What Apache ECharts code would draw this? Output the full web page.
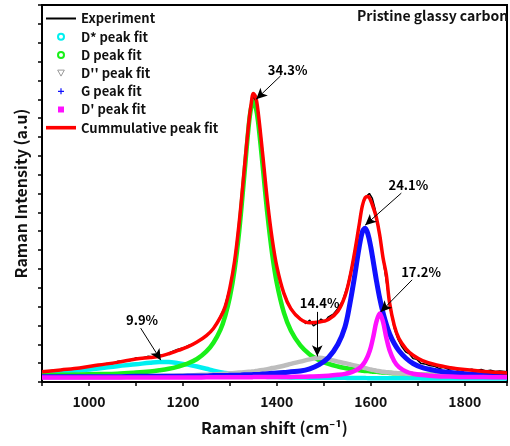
<!DOCTYPE html>
<html>
<head>
<meta charset="utf-8">
<script src="https://cdn.jsdelivr.net/npm/echarts@6/dist/echarts.min.js"></script>
<style>
  html, body { margin: 0; padding: 0; background: #fff; }
  #chart { width: 510px; height: 446px; }
</style>
</head>
<body>
<div id="chart"></div>
<script>
// Raman shift grid used by the fitted curves (cm-1)
const shift = [900, 940, 980, 1020, 1060, 1100, 1130, 1150, 1170, 1190,
  1210, 1230, 1250, 1265, 1280, 1290, 1300, 1310, 1320, 1330,
  1340, 1345, 1350, 1355, 1360, 1370, 1380, 1390, 1400, 1415,
  1430, 1450, 1470, 1490, 1510, 1530, 1545, 1555, 1565, 1575,
  1582, 1588, 1594, 1600, 1606, 1612, 1619, 1626, 1633, 1640,
  1650, 1660, 1675, 1690, 1710, 1740, 1770, 1800, 1840, 1890];

const dStarFit = [2.2, 2.6, 3.1, 3.6, 4.2, 4.7, 5.1, 5.3, 5.3, 5.0,
  4.6, 4.1, 3.5, 3.0, 2.6, 2.4, 2.2, 2.0, 1.8, 1.7,
  1.6, 1.55, 1.5, 1.5, 1.45, 1.4, 1.35, 1.3, 1.3, 1.25,
  1.2, 1.2, 1.15, 1.15, 1.1, 1.1, 1.1, 1.05, 1.05, 1.05,
  1.05, 1.05, 1.0, 1.0, 1.0, 1.0, 1.0, 1.0, 1.0, 1.0,
  1.0, 1.0, 1.0, 1.0, 0.95, 0.95, 0.95, 0.95, 0.9, 0.9];

const dFit = [1.8, 1.9, 2.0, 2.1, 2.2, 2.5, 2.8, 3.1, 3.5, 4.1,
  4.9, 6.1, 8.1, 10.4, 13.9, 17.5, 22.5, 29.8, 40.2, 53.8,
  67.8, 72.6, 74.3, 72.9, 69.1, 57.1, 44.4, 34.0, 26.2, 18.4,
  13.6, 9.7, 7.3, 5.8, 4.8, 4.1, 3.7, 3.5, 3.3, 3.1,
  3.0, 2.9, 2.9, 2.8, 2.7, 2.7, 2.6, 2.5, 2.5, 2.4,
  2.3, 2.3, 2.2, 2.1, 2.0, 1.9, 1.8, 1.8, 1.7, 1.6];

const dDoubleFit = [1.3, 1.3, 1.35, 1.4, 1.45, 1.5, 1.55, 1.6, 1.65, 1.7,
  1.75, 1.85, 1.95, 2.0, 2.1, 2.2, 2.3, 2.4, 2.5, 2.6,
  2.7, 2.75, 2.8, 2.9, 3.0, 3.2, 3.4, 3.7, 3.9, 4.3,
  4.8, 5.4, 6.0, 6.4, 6.0, 5.4, 5.0, 4.7, 4.4, 4.1,
  3.9, 3.7, 3.5, 3.3, 3.15, 3.0, 2.85, 2.7, 2.6, 2.5,
  2.4, 2.3, 2.2, 2.1, 2.0, 1.85, 1.75, 1.65, 1.55, 1.45];

const gFit = [1.4, 1.4, 1.4, 1.4, 1.4, 1.5, 1.5, 1.5, 1.5, 1.5,
  1.6, 1.6, 1.6, 1.7, 1.7, 1.7, 1.8, 1.8, 1.8, 1.9,
  1.9, 1.9, 2.0, 2.0, 2.0, 2.1, 2.2, 2.3, 2.4, 2.5,
  2.7, 2.9, 3.5, 4.6, 6.5, 10.0, 14.6, 20.4, 27.6, 35.6,
  39.8, 40.8, 39.2, 35.8, 31.4, 26.9, 22.2, 18.4, 15.3, 12.8,
  10.2, 8.3, 6.3, 4.9, 3.8, 3.0, 2.5, 2.2, 1.9, 1.7];

const dPrimeFit = [1.2, 1.2, 1.2, 1.2, 1.2, 1.2, 1.2, 1.2, 1.2, 1.2,
  1.2, 1.2, 1.25, 1.25, 1.25, 1.25, 1.25, 1.25, 1.25, 1.25,
  1.25, 1.25, 1.3, 1.3, 1.3, 1.3, 1.3, 1.3, 1.3, 1.3,
  1.35, 1.4, 1.45, 1.5, 1.65, 1.9, 2.15, 2.45, 2.9, 3.6,
  4.45, 5.5, 7.0, 9.2, 12.4, 16.0, 18.2, 16.0, 11.8, 8.4,
  5.5, 3.95, 2.8, 2.2, 1.85, 1.55, 1.45, 1.35, 1.3, 1.25];

const cumulativeFit = [2.7, 3.2, 3.7, 4.5, 5.2, 6.1, 6.5, 6.8, 7.5, 8.4,
  9.3, 10.6, 12.3, 14.2, 17.2, 20.0, 25.0, 32.0, 42.5, 55.6,
  68.6, 73.5, 76.5, 75.6, 71.8, 60.2, 47.9, 38.0, 30.6, 23.5,
  19.4, 16.7, 15.7, 15.9, 16.6, 18.8, 22.8, 27.5, 34.0, 41.5,
  46.7, 48.9, 49.2, 48.1, 46.0, 43.5, 39.0, 33.0, 28.5, 21.0,
  15.0, 11.5, 8.8, 7.1, 5.7, 4.5, 3.8, 3.3, 2.8, 2.4];

// measured spectrum
const expShift = [900, 912, 925, 938, 950, 962, 975, 988, 1000, 1012,
  1025, 1038, 1050, 1062, 1075, 1088, 1100, 1112, 1125, 1138,
  1150, 1162, 1175, 1188, 1200, 1212, 1225, 1238, 1250, 1262,
  1275, 1288, 1300, 1310, 1320, 1330, 1340, 1350, 1360, 1370,
  1380, 1390, 1400, 1412, 1425, 1438, 1450, 1462, 1470, 1478,
  1486, 1494, 1502, 1510, 1520, 1530, 1540, 1550, 1560, 1570,
  1578, 1585, 1591, 1597, 1603, 1609, 1615, 1621, 1628, 1635,
  1642, 1650, 1658, 1666, 1674, 1682, 1690, 1698, 1706, 1715,
  1725, 1735, 1745, 1755, 1765, 1775, 1785, 1795, 1805, 1815,
  1825, 1835, 1845, 1855, 1865, 1875, 1890];
const expIntensity = [2.8, 2.9, 3.1, 3.0, 3.4, 3.3, 3.7, 3.8, 4.0, 4.3,
  4.4, 4.9, 4.8, 5.5, 5.6, 5.7, 6.4, 6.3, 6.8, 6.6,
  7.1, 7.2, 8.0, 8.6, 9.0, 9.7, 10.2, 11.3, 12.3, 13.8,
  16.3, 19.6, 25.2, 32.0, 42.4, 55.5, 68.5, 76.2, 71.5, 60.0,
  47.8, 38.2, 30.4, 24.8, 20.6, 18.2, 16.8, 15.5, 16.4, 14.9,
  15.6, 16.7, 16.0, 17.3, 18.0, 19.5, 21.5, 25.5, 31.0, 38.0,
  44.5, 48.0, 49.3, 50.0, 48.8, 46.0, 42.0, 38.0, 31.0, 25.0,
  19.0, 14.2, 11.3, 9.4, 8.0, 7.5, 6.2, 6.0, 5.0, 4.8,
  4.4, 4.2, 3.6, 3.9, 3.4, 3.6, 3.2, 3.5, 3.1, 3.4,
  3.0, 3.3, 2.9, 3.1, 2.8, 2.9, 2.7];

// area percentages and where their arrows point
const noteText = ['34.3%', '24.1%', '17.2%', '14.4%', '9.9%'];
const notePos = [[1423, 82.8], [1680, 52.3], [1707, 29.2], [1491, 21.0], [1113, 16.4]];
const arrowFrom = [[1408, 81.2], [1665, 50.1], [1688, 27.1], [1486, 18.6], [1110, 14.3]];
const arrowTo = [[1356, 75.0], [1588, 41.6], [1621, 18.6], [1486, 6.8], [1153, 5.8]];

const font = "'Noto Sans CJK JP', 'Noto Sans', sans-serif";

function pairs(xs, ys) {
  return xs.map((x, i) => [x, ys[i]]);
}

function fitSeries(name, ys, color, width) {
  return {
    name: name,
    type: 'line',
    data: pairs(shift, ys),
    symbol: 'none',
    smooth: 0.35,
    lineStyle: { color: color, width: width },
    itemStyle: { color: color }
  };
}

const chart = echarts.init(document.getElementById('chart'));
chart.setOption({
  animation: false,
  backgroundColor: '#fff',
  title: {
    text: 'Pristine glassy carbon',
    left: 357,
    top: 9,
    padding: 0,
    textStyle: { fontFamily: font, fontSize: 14, fontWeight: 'bold', color: '#111' }
  },
  legend: {
    orient: 'vertical',
    left: 46,
    top: 12,
    padding: 0,
    itemWidth: 30,
    itemHeight: 6,
    itemGap: 5.2,
    textStyle: { fontFamily: font, fontSize: 13, fontWeight: 'bold', color: '#111' },
    data: [
      { name: 'Experiment', icon: 'path://M0,0H30V2H0Z' },
      { name: 'D* peak fit', icon: 'emptyCircle' },
      { name: 'D peak fit', icon: 'emptyCircle' },
      { name: "D'' peak fit", icon: 'path://M0,0L10,0L5,9Z',
        itemStyle: { color: '#fff', borderColor: '#999', borderWidth: 1 } },
      { name: 'G peak fit', icon: 'path://M4,0H6V4H10V6H6V10H4V6H0V4H4Z' },
      { name: "D' peak fit", icon: 'path://M0,0H10V10H0Z' },
      { name: 'Cummulative peak fit', icon: 'path://M0,0H30V3.6H0Z' }
    ]
  },
  grid: {
    left: 42, right: -2, top: 5, bottom: 64,
    show: true, borderColor: '#000', borderWidth: 2
  },
  xAxis: {
    type: 'value',
    min: 900,
    max: 1890,
    interval: 100,
    name: 'Raman shift (cm⁻¹)',
    nameLocation: 'middle',
    nameGap: 38,
    nameTextStyle: { fontFamily: font, fontSize: 16, fontWeight: 'bold', color: '#111' },
    axisLine: { show: true, lineStyle: { color: '#000', width: 2 } },
    axisTick: { show: true, inside: false, length: 4, lineStyle: { color: '#000', width: 1.5 } },
    axisLabel: {
      margin: 13,
      fontFamily: font, fontSize: 14, fontWeight: 'bold', color: '#111',
      formatter: v => (v % 200 === 0 ? String(v) : '')
    },
    splitLine: { show: false }
  },
  yAxis: {
    type: 'value',
    min: 0,
    max: 100,
    interval: 5,
    name: 'Raman Intensity (a.u)',
    nameLocation: 'middle',
    nameGap: 13,
    nameTextStyle: { fontFamily: font, fontSize: 16, fontWeight: 'bold', color: '#111' },
    axisLine: { show: true, lineStyle: { color: '#000', width: 2 } },
    axisTick: { show: true, inside: false, length: 4, lineStyle: { color: '#000', width: 1.5 } },
    axisLabel: { show: false },
    splitLine: { show: false }
  },
  series: [
    {
      name: 'Experiment',
      type: 'line',
      data: pairs(expShift, expIntensity),
      symbol: 'none',
      lineStyle: { color: '#000', width: 1.5 },
      itemStyle: { color: '#000' }
    },
    fitSeries('D* peak fit', dStarFit, '#00f0f0', 4.5),
    fitSeries('D peak fit', dFit, '#19f019', 4.5),
    fitSeries("D'' peak fit", dDoubleFit, '#bdbdbd', 4.5),
    fitSeries('G peak fit', gFit, '#1010ff', 5),
    fitSeries("D' peak fit", dPrimeFit, '#ff10ff', 4.5),
    fitSeries('Cummulative peak fit', cumulativeFit, '#ff0000', 3.5),
    {
      name: 'notes',
      type: 'scatter',
      silent: true,
      symbolSize: 0,
      itemStyle: { opacity: 1, color: '#000' },
      data: notePos.map((p, i) => ({ value: p, label: { formatter: noteText[i] } })),
      label: {
        show: true,
        position: 'inside',
        opacity: 1,
        fontFamily: font, fontSize: 13, fontWeight: 'bold', color: '#000'
      },
      markLine: {
        silent: true,
        symbol: ['none', 'arrow'],
        symbolSize: [8, 11],
        label: { show: false },
        lineStyle: { color: '#000', width: 1, type: 'solid' },
        data: arrowFrom.map((s, i) => [{ coord: s }, { coord: arrowTo[i] }])
      }
    }
  ]
});
</script>
</body>
</html>
